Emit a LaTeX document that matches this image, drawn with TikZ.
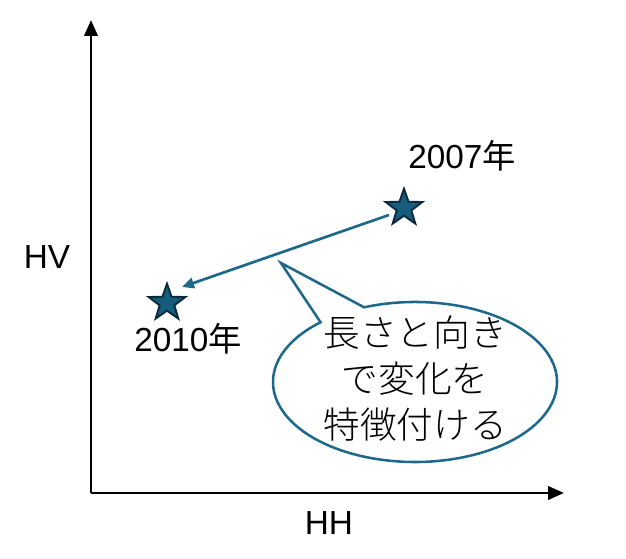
\documentclass[tikz,border=0pt]{standalone}
\usepackage{fontspec}
\setmainfont{Liberation Sans}
\newfontfamily\jpfont{Noto Sans CJK JP}
\newfontfamily\jplight{Noto Sans CJK JP Light}
\usetikzlibrary{shapes.geometric,arrows.meta}
\definecolor{starfill}{RGB}{22,92,124}
\definecolor{stardraw}{RGB}{12,40,58}
\definecolor{arrcol}{RGB}{30,104,140}
\begin{document}
\begin{tikzpicture}[x=0.75pt,y=-0.75pt,
  axis/.style={line width=2.2pt,-{Triangle[length=12pt,width=10pt]}},
  starmark/.style={star,star points=5,star point ratio=2.5,fill=starfill,draw=stardraw,line width=1.4pt,minimum size=29pt,inner sep=0pt},
  lbl/.style={font=\fontsize{25}{28}\selectfont,inner sep=0pt},
  bubble/.style={draw=arrcol,line width=1.9pt,fill=white}]
\useasboundingbox (0,0) rectangle (626,559);
\coordinate (o) at (91,493);
\coordinate (ytop) at (91,20);
\coordinate (xend) at (564,493);
\draw[axis] (o) -- (ytop);
\draw[axis] (o) -- (xend);
\node[starmark] (s7) at (404,208) {};
\node[starmark] (s10) at (167,303) {};
\coordinate (a0) at (389,215);
\coordinate (a1) at (182,287);
\draw[arrcol,line width=2pt,-{Triangle[length=9pt,width=8pt]}] (a0) -- (a1);
% callout
\coordinate (c) at (415,382);
\coordinate (tip) at (281,263);
\draw[bubble] (tip) -- ([shift={(-111:142 and 80)}]c)
  arc[start angle=-111,end angle=228.3,x radius=142,y radius=80] -- cycle;
\node[lbl] (hv) at (47,257) {HV};
\node[lbl] (hh) at (329,523) {HH};
\node[lbl,anchor=base] (y7) at (462,169) {2007{\jpfont 年}};
\node[lbl,anchor=base] (y10) at (188,352) {2010{\jpfont 年}};
\node[font=\jplight\fontsize{27.5}{34.5}\selectfont, align=center,inner sep=0pt] (txt) at (415,379) {長さと向き\\で変化を\\特徴付ける};
\end{tikzpicture}
\end{document}
